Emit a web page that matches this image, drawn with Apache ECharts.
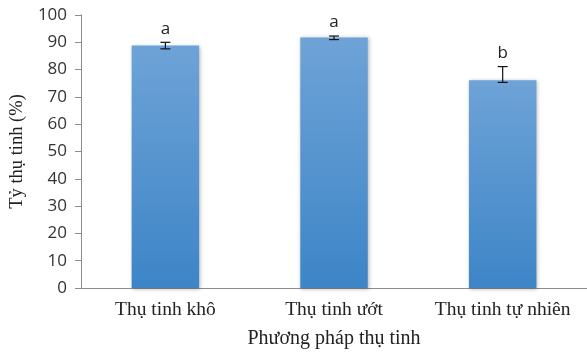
<!DOCTYPE html>
<html>
<head>
<meta charset="utf-8">
<script src="https://cdn.jsdelivr.net/npm/echarts@6/dist/echarts.min.js"></script>
<style>
  html, body { margin: 0; padding: 0; background: #fff; }
  #chart { width: 587px; height: 354px; }
</style>
</head>
<body>
<div id="chart"></div>
<script>
// Fertilization rate by method, mean with error range and significance letters
const categories = ['Thụ tinh khô', 'Thụ tinh ướt', 'Thụ tinh tự nhiên'];
const rates = [88.8, 91.8, 76.1];
const errLow = [87.6, 91.0, 75.3];
const errHigh = [90.0, 92.3, 81.1];
const letters = ['a', 'a', 'b'];
const yTicks = { min: 0, max: 100, interval: 10 };

const chart = echarts.init(document.getElementById('chart'), null, { renderer: 'canvas' });

const errorData = categories.map((c, i) => [i, errLow[i], errHigh[i], letters[i]]);

chart.setOption({
  animation: false,
  grid: { left: 81, top: 15, width: 508, height: 275 },
  xAxis: {
    type: 'category',
    data: categories,
    axisLine: { lineStyle: { color: '#8c8c8c', width: 1 } },
    axisTick: { show: false },
    axisLabel: {
      interval: 0,
      hideOverlap: false,
      fontFamily: 'Liberation Serif', fontSize: 19.5, color: '#222', margin: 12
    },
    name: 'Phương pháp thụ tinh',
    nameLocation: 'middle',
    nameGap: 41,
    nameTextStyle: { fontFamily: 'Liberation Serif', fontSize: 20, color: '#222' }
  },
  yAxis: {
    type: 'value',
    min: yTicks.min, max: yTicks.max, interval: yTicks.interval,
    splitLine: { show: false },
    axisLine: { show: true, lineStyle: { color: '#8c8c8c', width: 1 } },
    axisTick: { show: true, length: 6, lineStyle: { color: '#8c8c8c' } },
    axisLabel: { fontFamily: 'Open Sans', fontSize: 17, color: '#333', margin: 14 },
    name: 'Tỷ thụ tinh (%)',
    nameLocation: 'middle',
    nameGap: 51,
    nameRotate: 90,
    nameTextStyle: { fontFamily: 'Liberation Serif', fontSize: 18.5, color: '#222' }
  },
  series: [
    {
      type: 'bar',
      data: rates,
      barWidth: '40%',
      itemStyle: {
        color: new echarts.graphic.LinearGradient(0, 0, 0, 1, [
          { offset: 0, color: '#6ea3d7' },
          { offset: 1, color: '#3d85c7' }
        ]),
        shadowColor: 'rgba(0,0,0,0.3)',
        shadowBlur: 4,
        shadowOffsetX: 1,
        shadowOffsetY: 1
      }
    },
    {
      type: 'custom',
      data: errorData,
      z: 10,
      renderItem: function (params, api) {
        const x = api.coord([api.value(0), 0])[0];
        const lo = api.coord([api.value(0), api.value(1)])[1];
        const hi = api.coord([api.value(0), api.value(2)])[1];
        const cap = 5;
        const st = { stroke: '#111', lineWidth: 1.2 };
        return {
          type: 'group',
          children: [
            { type: 'line', shape: { x1: x, y1: hi, x2: x, y2: lo }, style: st },
            { type: 'line', shape: { x1: x - cap, y1: hi, x2: x + cap, y2: hi }, style: st },
            { type: 'line', shape: { x1: x - cap, y1: lo, x2: x + cap, y2: lo }, style: st },
            {
              type: 'text',
              style: {
                text: api.value(3),
                x: x, y: hi - 5,
                align: 'center', verticalAlign: 'bottom',
                fontFamily: 'Open Sans', fontSize: 17, fill: '#222'
              }
            }
          ]
        };
      }
    }
  ]
});
</script>
</body>
</html>
